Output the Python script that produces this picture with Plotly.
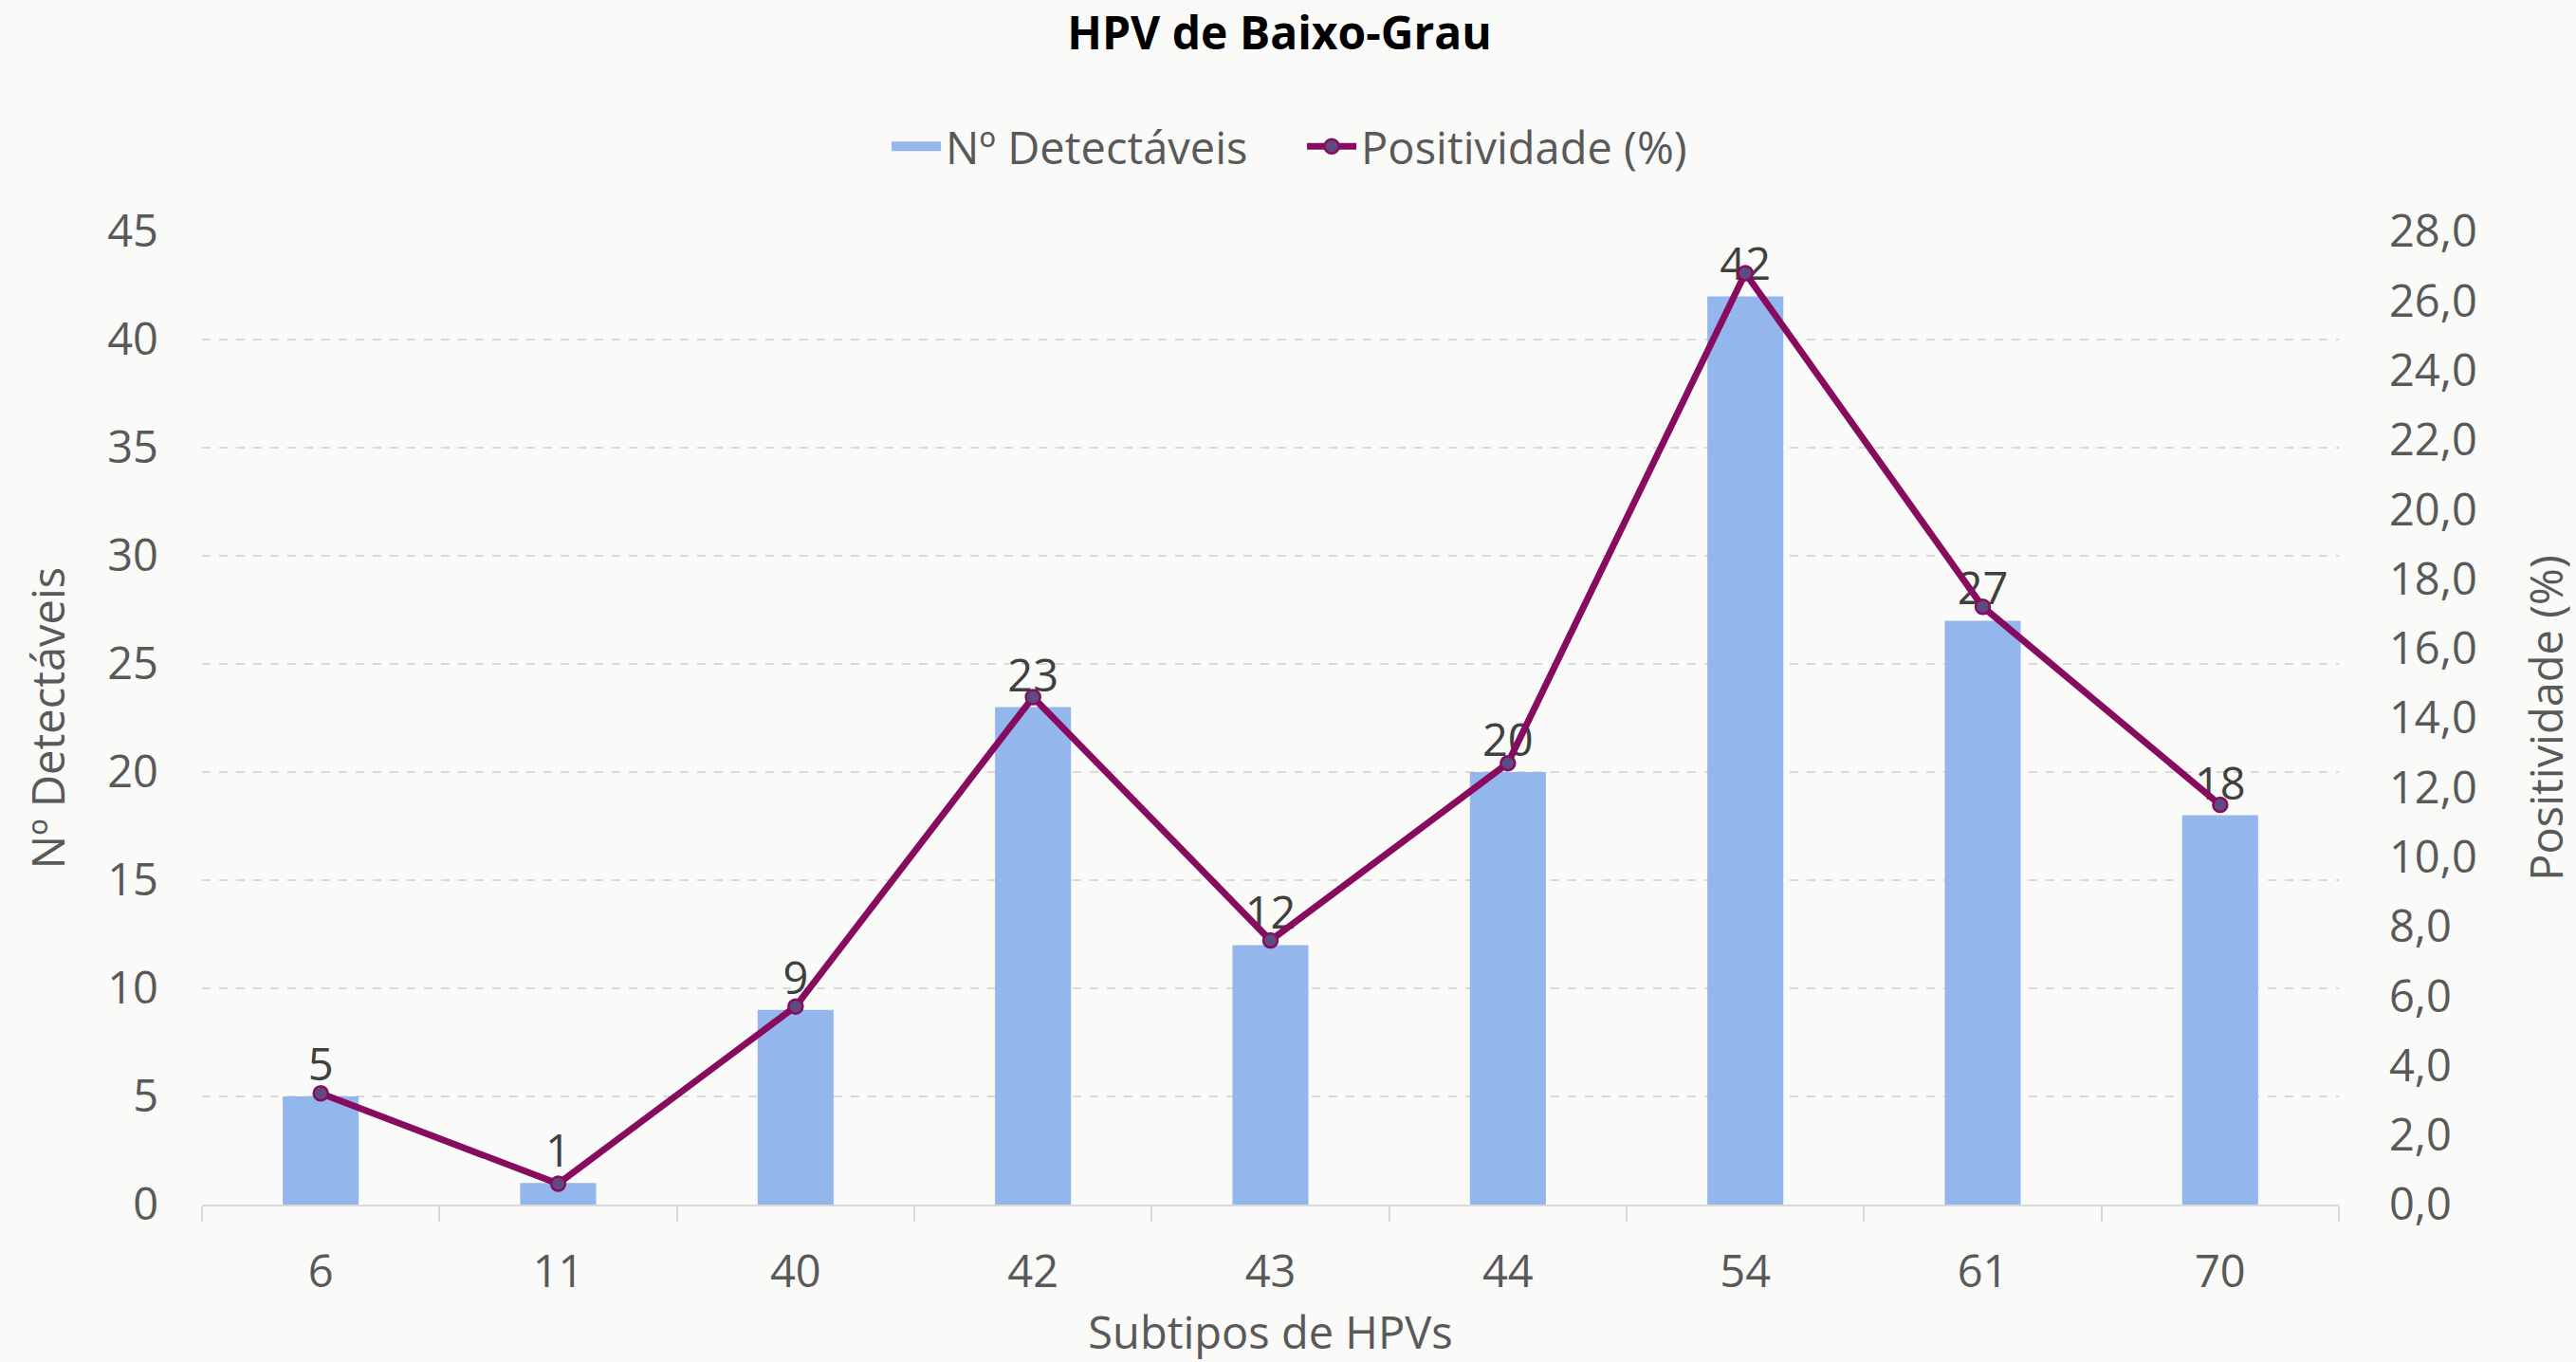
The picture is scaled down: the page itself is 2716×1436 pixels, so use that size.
import plotly.graph_objects as go

subtipos = ["6", "11", "40", "42", "43", "44", "54", "61", "70"]
detectaveis = [5, 1, 9, 23, 12, 20, 42, 27, 18]
positividade = [3.2, 0.6, 5.7, 14.6, 7.6, 12.7, 26.8, 17.2, 11.5]

left_ticks = list(range(0, 50, 5))
right_ticks = list(range(0, 30, 2))

FONT = "Open Sans"
GREY = "#595959"
FS = 47
BAR_COLOR = "#93B6EC"

fig = go.Figure()
fig.add_trace(go.Bar(
    x=subtipos, y=detectaveis, name="Nº Detectáveis",
    marker=dict(color=BAR_COLOR, line=dict(width=0)),
    width=0.32, showlegend=False,
    text=[str(v) for v in detectaveis], textposition="outside",
    textfont=dict(family=FONT, size=FS, color="#404040"),
    cliponaxis=False,
))
# legend swatch for the bars
fig.add_trace(go.Scatter(
    x=[subtipos[0]], y=[None], name="Nº Detectáveis", mode="lines",
    line=dict(color=BAR_COLOR, width=30), showlegend=True, hoverinfo="skip",
))
fig.add_trace(go.Scatter(
    x=subtipos, y=positividade, name="Positividade (%)", yaxis="y2",
    mode="lines+markers",
    line=dict(color="#870C5F", width=7),
    marker=dict(size=15, color="#5E4A7E", line=dict(color="#870C5F", width=2.5)),
    cliponaxis=False,
))

fig.update_layout(
    width=2716, height=1436,
    paper_bgcolor="#FAFAF8", plot_bgcolor="#FAFAF8",
    margin=dict(l=213, r=250, t=244, b=166, autoexpand=False),
    separators=",.",
    font=dict(family=FONT, size=FS, color=GREY),
    title=dict(text="<b>HPV de Baixo-Grau</b>", x=0.4967, xanchor="center",
               y=1 - 35 / 1436, yanchor="middle",
               font=dict(family=FONT, size=48, color="#000000")),
    legend=dict(orientation="h", x=0.3205, xanchor="left", y=1.087, yanchor="middle",
                font=dict(family=FONT, size=FS, color=GREY), itemwidth=52,
                entrywidth=371, entrywidthmode="pixels",
                bgcolor="rgba(0,0,0,0)", traceorder="normal"),
    xaxis=dict(
        title=dict(text="Subtipos de HPVs", font=dict(family=FONT, size=FS, color=GREY), standoff=32),
        type="category", showgrid=False, showline=True, linecolor="#D9D9D9", linewidth=2,
        ticks="outside", tickson="boundaries", ticklen=16, tickcolor="#D9D9D9", tickwidth=2,
        ticklabelstandoff=29, zeroline=False, automargin=False,
        tickfont=dict(family=FONT, size=FS, color=GREY),
    ),
    yaxis=dict(
        title=dict(text="Nº Detectáveis", font=dict(family=FONT, size=FS, color=GREY), standoff=29),
        range=[0, 45], tickvals=left_ticks, showline=False, zeroline=False,
        showgrid=True, gridcolor="#D9D9D9", griddash="dash", gridwidth=2,
        ticklabelstandoff=45, automargin=False,
        tickfont=dict(family=FONT, size=FS, color=GREY),
    ),
    yaxis2=dict(
        title=dict(text="Positividade (%)", font=dict(family=FONT, size=FS, color=GREY), standoff=58),
        overlaying="y", side="right", range=[0, 28], tickvals=right_ticks,
        tickformat=".1f", showgrid=False, showline=False, zeroline=False,
        ticklabelstandoff=52, automargin=False,
        tickfont=dict(family=FONT, size=FS, color=GREY),
    ),
)

fig.write_html("out.html", config={"displayModeBar": False},
               post_script="document.body.style.margin='0';")
